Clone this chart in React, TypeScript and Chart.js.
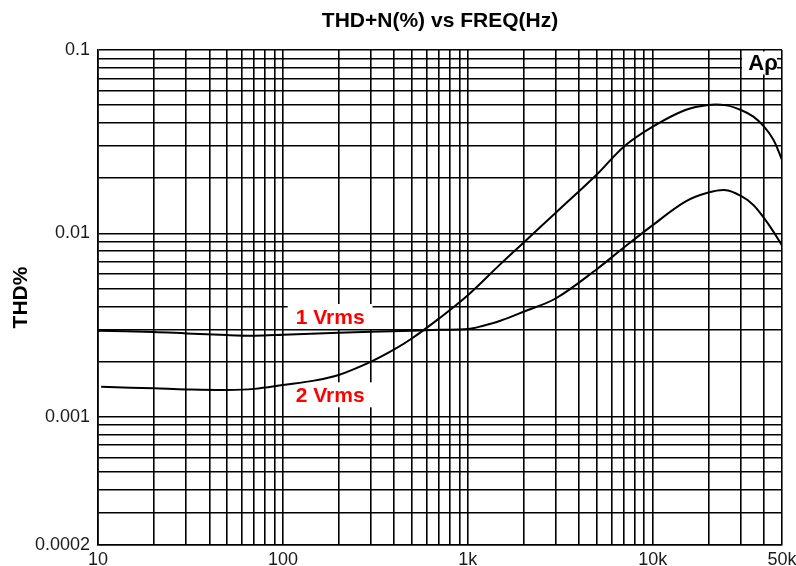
import React, { useEffect, useRef } from 'react';
import { Chart, registerables } from 'chart.js';

Chart.register(...registerables);

const FONT = "'Liberation Sans', Arial, Helvetica, sans-serif";

// 1 Vrms curve
const freq1Vrms = [10, 20, 30, 50, 70, 100, 200, 300, 500, 700, 1000, 1200, 1500, 2000, 3000, 5000, 7000, 10000, 15000, 20000, 25000, 30000, 35000, 40000, 45000, 50000];
const thd1Vrms = [0.00295, 0.0029, 0.00285, 0.00279, 0.00277, 0.0028, 0.00287, 0.00291, 0.00295, 0.00298, 0.00301, 0.00313, 0.00334, 0.00374, 0.00443, 0.0064, 0.0084, 0.0111, 0.0149, 0.0167, 0.0172, 0.016, 0.0143, 0.0121, 0.0102, 0.0086];

// 2 Vrms curve
const freq2Vrms = [10.4, 15, 20, 30, 50, 70, 100, 150, 200, 300, 400, 500, 700, 1000, 1500, 2000, 3000, 5000, 7000, 10000, 15000, 20000, 25000, 30000, 35000, 40000, 45000, 50000];
const thd2Vrms = [0.00146, 0.00144, 0.00143, 0.00141, 0.0014, 0.00142, 0.00149, 0.00158, 0.00169, 0.0020, 0.00233, 0.00268, 0.00344, 0.0046, 0.0068, 0.0089, 0.0130, 0.021, 0.0298, 0.0382, 0.0471, 0.0502, 0.0499, 0.0471, 0.0433, 0.0382, 0.0323, 0.0252];

// grid lines
const xGridValues = [10, 20, 30, 40, 50, 60, 70, 80, 90, 100, 200, 300, 400, 500, 600, 700, 800, 900, 1000, 2000, 3000, 4000, 5000, 6000, 7000, 8000, 9000, 10000, 20000, 30000, 40000, 50000];
const yGridValues = [0.0002, 0.0003, 0.0004, 0.0005, 0.0006, 0.0007, 0.0008, 0.0009, 0.001, 0.002, 0.003, 0.004, 0.005, 0.006, 0.007, 0.008, 0.009, 0.01, 0.02, 0.03, 0.04, 0.05, 0.06, 0.07, 0.08, 0.09, 0.1];

// tick labels
const xTickValues = [10, 100, 1000, 10000, 50000];
const xTickLabels = ['10', '100', '1k', '10k', '50k'];
const yTickValues = [0.1, 0.01, 0.001, 0.0002];
const yTickLabels = ['0.1', '0.01', '0.001', '0.0002'];

// curve annotations (anchored in data coordinates)
const annotationTexts = ['1 Vrms', '2 Vrms'];
const annotationFreqs = [180, 180];
const annotationThd = [0.0035, 0.00131];

const TITLE = 'THD+N(%) vs FREQ(Hz)';
const Y_TITLE = 'THD%';

function lookup(v: number, values: number[], labels: string[]) {
  for (let i = 0; i < values.length; i++) {
    if (Math.abs(v / values[i] - 1) < 1e-6) return labels[i];
  }
  return '';
}

const overlayPlugin = {
  id: 'overlay',
  beforeDatasetsDraw(chart: any) {
    const { ctx, chartArea, scales } = chart;
    const x = scales.x;
    const y = scales.y;
    ctx.save();
    ctx.font = `bold 21px ${FONT}`;
    ctx.textAlign = 'center';
    ctx.textBaseline = 'middle';
    for (let i = 0; i < annotationTexts.length; i++) {
      const px = x.getPixelForValue(annotationFreqs[i]);
      const py = y.getPixelForValue(annotationThd[i]);
      const w = ctx.measureText(annotationTexts[i]).width;
      ctx.fillStyle = '#ffffff';
      ctx.fillRect(px - w / 2 - 8, py - 13, w + 16, 25);
      ctx.fillStyle = '#ff0000';
      ctx.fillText(annotationTexts[i], px, py + 1);
    }
    // Ap logo
    const bx = chartArea.right - 40;
    const by = chartArea.top + 1.5;
    ctx.fillStyle = '#ffffff';
    ctx.fillRect(bx, by, 35, 23);
    ctx.fillStyle = '#000000';
    ctx.font = `bold 22px ${FONT}`;
    ctx.fillText('A\u03C1', bx + 21, by + 12);
    ctx.restore();
  },
  afterDraw(chart: any) {
    const { ctx, chartArea } = chart;
    ctx.save();
    ctx.fillStyle = '#000000';
    ctx.font = `bold 21px ${FONT}`;
    ctx.textAlign = 'center';
    ctx.textBaseline = 'alphabetic';
    ctx.fillText(TITLE, (chartArea.left + chartArea.right) / 2, 27);
    ctx.translate(27, (chartArea.top + chartArea.bottom) / 2);
    ctx.rotate(-Math.PI / 2);
    ctx.fillText(Y_TITLE, 0, 0);
    ctx.restore();
  },
};

export default function App() {
  const ref = useRef<HTMLCanvasElement>(null);
  useEffect(() => {
    const canvas = ref.current;
    if (!canvas) return;
    const chart = new Chart(canvas, {
      type: 'line',
      data: {
        datasets: [
          {
            label: '1 Vrms',
            data: freq1Vrms.map((f, i) => ({ x: f, y: thd1Vrms[i] })),
            borderColor: '#000000',
            borderWidth: 2,
            pointRadius: 0,
            tension: 0.35,
            fill: false,
          },
          {
            label: '2 Vrms',
            data: freq2Vrms.map((f, i) => ({ x: f, y: thd2Vrms[i] })),
            borderColor: '#000000',
            borderWidth: 2,
            pointRadius: 0,
            tension: 0.35,
            fill: false,
          },
        ],
      },
      options: {
        responsive: false,
        animation: false,
        devicePixelRatio: 1,
        layout: { padding: { top: 50, right: 14, left: 0, bottom: 0 } },
        plugins: {
          legend: { display: false },
          tooltip: { enabled: false },
          title: { display: false },
        },
        scales: {
          x: {
            type: 'logarithmic',
            min: 10,
            max: 50000,
            afterBuildTicks: (s: any) => {
              s.ticks = xGridValues.map((v) => ({ value: v }));
            },
            afterFit: (s: any) => {
              s.height = 21;
              s.paddingLeft = 0;
              s.paddingRight = 0;
            },
            ticks: {
              autoSkip: false,
              maxRotation: 0,
              minRotation: 0,
              padding: 4,
              color: '#1a1a1a',
              font: { family: FONT, size: 18 },
              callback: (v: any) => lookup(Number(v), xTickValues, xTickLabels),
            },
            grid: { color: '#000000', lineWidth: 1.6, drawTicks: false },
            border: { color: '#000000', width: 1.6 },
          },
          y: {
            type: 'logarithmic',
            min: 0.0002,
            max: 0.1,
            afterBuildTicks: (s: any) => {
              s.ticks = yGridValues.map((v) => ({ value: v }));
            },
            afterFit: (s: any) => {
              s.width = 98;
              s.paddingTop = 0;
              s.paddingBottom = 0;
            },
            ticks: {
              autoSkip: false,
              padding: 8,
              color: '#1a1a1a',
              font: { family: FONT, size: 18 },
              callback: (v: any) => lookup(Number(v), yTickValues, yTickLabels),
            },
            grid: { color: '#000000', lineWidth: 1.6, drawTicks: false },
            border: { color: '#000000', width: 1.6 },
          },
        },
      },
      plugins: [overlayPlugin],
    } as any);
    return () => chart.destroy();
  }, []);

  return (
    <div style={{ position: 'fixed', left: 0, top: 0, width: 796, height: 566, background: '#ffffff' }}>
      <canvas ref={ref} width={796} height={566} style={{ display: 'block' }} />
    </div>
  );
}
